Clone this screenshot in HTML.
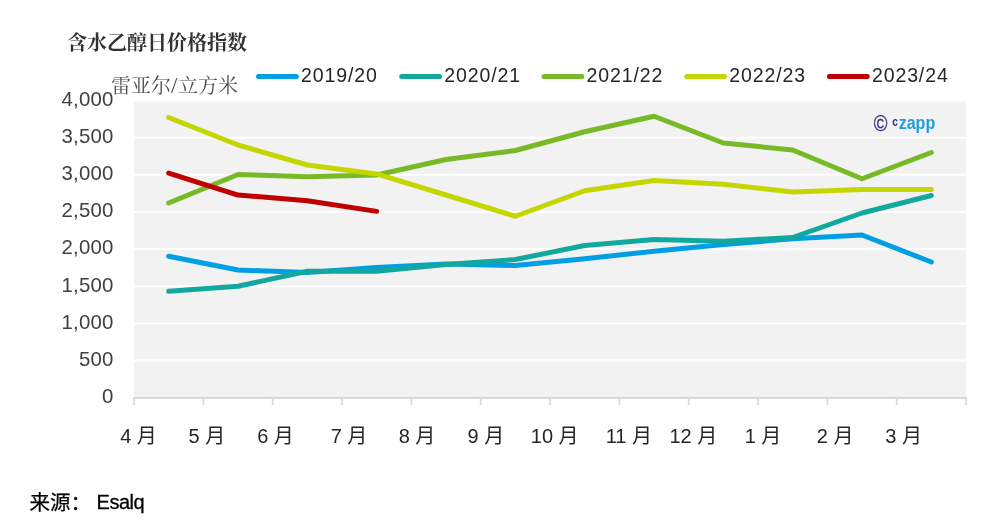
<!DOCTYPE html>
<html lang="zh-CN"><head><meta charset="utf-8"><title>含水乙醇日价格指数</title>
<style>
html,body{margin:0;padding:0;background:#fff;}
body{width:999px;height:522px;overflow:hidden;position:relative;}
svg{position:absolute;left:0;top:0;display:block;}
.sans{font-family:"Liberation Sans","Noto Sans CJK SC",sans-serif;}
.serif{font-family:"Liberation Serif","Noto Serif CJK SC",serif;}
</style></head><body>
<svg width="999" height="522" viewBox="0 0 999 522">
<rect x="0" y="0" width="999" height="522" fill="#ffffff"/>
<rect x="134.0" y="100.5" width="832.0" height="297.2" fill="#f2f2f2"/>
<line x1="134.0" x2="966.0" y1="360.55" y2="360.55" stroke="#ffffff" stroke-width="2"/>
<line x1="134.0" x2="966.0" y1="323.40" y2="323.40" stroke="#ffffff" stroke-width="2"/>
<line x1="134.0" x2="966.0" y1="286.25" y2="286.25" stroke="#ffffff" stroke-width="2"/>
<line x1="134.0" x2="966.0" y1="249.10" y2="249.10" stroke="#ffffff" stroke-width="2"/>
<line x1="134.0" x2="966.0" y1="211.95" y2="211.95" stroke="#ffffff" stroke-width="2"/>
<line x1="134.0" x2="966.0" y1="174.80" y2="174.80" stroke="#ffffff" stroke-width="2"/>
<line x1="134.0" x2="966.0" y1="137.65" y2="137.65" stroke="#ffffff" stroke-width="2"/>
<line x1="134.0" x2="966.0" y1="100.50" y2="100.50" stroke="#ffffff" stroke-width="2"/>
<line x1="133.25" x2="966.75" y1="397.9" y2="397.9" stroke="#d9d9d9" stroke-width="2"/>
<line x1="134.00" x2="134.00" y1="397.7" y2="404.9" stroke="#d9d9d9" stroke-width="1.7"/>
<line x1="203.33" x2="203.33" y1="397.7" y2="404.9" stroke="#d9d9d9" stroke-width="1.7"/>
<line x1="272.67" x2="272.67" y1="397.7" y2="404.9" stroke="#d9d9d9" stroke-width="1.7"/>
<line x1="342.00" x2="342.00" y1="397.7" y2="404.9" stroke="#d9d9d9" stroke-width="1.7"/>
<line x1="411.33" x2="411.33" y1="397.7" y2="404.9" stroke="#d9d9d9" stroke-width="1.7"/>
<line x1="480.67" x2="480.67" y1="397.7" y2="404.9" stroke="#d9d9d9" stroke-width="1.7"/>
<line x1="550.00" x2="550.00" y1="397.7" y2="404.9" stroke="#d9d9d9" stroke-width="1.7"/>
<line x1="619.33" x2="619.33" y1="397.7" y2="404.9" stroke="#d9d9d9" stroke-width="1.7"/>
<line x1="688.67" x2="688.67" y1="397.7" y2="404.9" stroke="#d9d9d9" stroke-width="1.7"/>
<line x1="758.00" x2="758.00" y1="397.7" y2="404.9" stroke="#d9d9d9" stroke-width="1.7"/>
<line x1="827.33" x2="827.33" y1="397.7" y2="404.9" stroke="#d9d9d9" stroke-width="1.7"/>
<line x1="896.67" x2="896.67" y1="397.7" y2="404.9" stroke="#d9d9d9" stroke-width="1.7"/>
<line x1="966.00" x2="966.00" y1="397.7" y2="404.9" stroke="#d9d9d9" stroke-width="1.7"/>
<text class="sans" x="113.7" y="403.00" text-anchor="end" font-size="20.4" letter-spacing="0.25" fill="#404040">0</text>
<text class="sans" x="113.7" y="365.85" text-anchor="end" font-size="20.4" letter-spacing="0.25" fill="#404040">500</text>
<text class="sans" x="113.7" y="328.70" text-anchor="end" font-size="20.4" letter-spacing="0.25" fill="#404040">1,000</text>
<text class="sans" x="113.7" y="291.55" text-anchor="end" font-size="20.4" letter-spacing="0.25" fill="#404040">1,500</text>
<text class="sans" x="113.7" y="254.40" text-anchor="end" font-size="20.4" letter-spacing="0.25" fill="#404040">2,000</text>
<text class="sans" x="113.7" y="217.25" text-anchor="end" font-size="20.4" letter-spacing="0.25" fill="#404040">2,500</text>
<text class="sans" x="113.7" y="180.10" text-anchor="end" font-size="20.4" letter-spacing="0.25" fill="#404040">3,000</text>
<text class="sans" x="113.7" y="142.95" text-anchor="end" font-size="20.4" letter-spacing="0.25" fill="#404040">3,500</text>
<text class="sans" x="113.7" y="105.80" text-anchor="end" font-size="20.4" letter-spacing="0.25" fill="#404040">4,000</text>
<polyline points="168.67,256.23 238.00,269.98 307.33,272.50 376.67,267.53 446.00,263.96 515.33,265.52 584.67,258.76 654.00,251.25 723.33,244.49 792.67,238.77 862.00,234.98 931.33,262.03" fill="none" stroke="#009fe3" stroke-width="5" stroke-linecap="round" stroke-linejoin="round"/>
<polyline points="168.67,291.23 238.00,286.25 307.33,271.24 376.67,271.24 446.00,264.48 515.33,259.50 584.67,245.46 654.00,239.52 723.33,241.22 792.67,237.51 862.00,212.99 931.33,195.53" fill="none" stroke="#13a89e" stroke-width="5" stroke-linecap="round" stroke-linejoin="round"/>
<polyline points="168.67,203.03 238.00,174.50 307.33,176.73 376.67,175.02 446.00,159.49 515.33,150.50 584.67,131.78 654.00,116.25 723.33,143.00 792.67,149.98 862.00,178.74 931.33,152.51" fill="none" stroke="#78b928" stroke-width="5" stroke-linecap="round" stroke-linejoin="round"/>
<polyline points="168.67,117.51 238.00,145.01 307.33,164.99 376.67,173.98 446.00,195.01 515.33,216.26 584.67,190.77 654.00,180.52 723.33,184.24 792.67,191.96 862.00,189.51 931.33,189.51" fill="none" stroke="#c4d600" stroke-width="5" stroke-linecap="round" stroke-linejoin="round"/>
<polyline points="168.67,173.02 238.00,195.01 307.33,200.66 376.67,211.36" fill="none" stroke="#c00000" stroke-width="5" stroke-linecap="round" stroke-linejoin="round"/>
<line x1="258.5" x2="296.3" y1="76.45" y2="76.45" stroke="#009fe3" stroke-width="5" stroke-linecap="round"/>
<text class="sans" x="301.0" y="82" font-size="19.5" letter-spacing="0.9" fill="#262626">2019/20</text>
<line x1="401.7" x2="439.5" y1="76.45" y2="76.45" stroke="#13a89e" stroke-width="5" stroke-linecap="round"/>
<text class="sans" x="444.2" y="82" font-size="19.5" letter-spacing="0.9" fill="#262626">2020/21</text>
<line x1="544" x2="581.8" y1="76.45" y2="76.45" stroke="#78b928" stroke-width="5" stroke-linecap="round"/>
<text class="sans" x="586.5" y="82" font-size="19.5" letter-spacing="0.9" fill="#262626">2021/22</text>
<line x1="686.7" x2="724.5" y1="76.45" y2="76.45" stroke="#c4d600" stroke-width="5" stroke-linecap="round"/>
<text class="sans" x="729.2" y="82" font-size="19.5" letter-spacing="0.9" fill="#262626">2022/23</text>
<line x1="829.4" x2="867.1999999999999" y1="76.45" y2="76.45" stroke="#c00000" stroke-width="5" stroke-linecap="round"/>
<text class="sans" x="871.9" y="82" font-size="19.5" letter-spacing="0.9" fill="#262626">2023/24</text>
<text class="serif" x="67" y="49.5" font-size="20" font-weight="bold" fill="#303030">含水乙醇日价格指数</text>
<text class="serif" x="111" y="93" font-size="20" fill="#4d4d4d">雷亚尔<tspan dx="0" font-size="23">/</tspan><tspan dx="0.5">立方米</tspan></text>
<text class="sans" x="138.5" y="443" text-anchor="middle" font-size="20" fill="#262626">4 月</text>
<text class="sans" x="206.8" y="443" text-anchor="middle" font-size="20" fill="#262626">5 月</text>
<text class="sans" x="275.5" y="443" text-anchor="middle" font-size="20" fill="#262626">6 月</text>
<text class="sans" x="349.0" y="443" text-anchor="middle" font-size="20" fill="#262626">7 月</text>
<text class="sans" x="417.0" y="443" text-anchor="middle" font-size="20" fill="#262626">8 月</text>
<text class="sans" x="485.9" y="443" text-anchor="middle" font-size="20" fill="#262626">9 月</text>
<text class="sans" x="554.7" y="443" text-anchor="middle" font-size="20" fill="#262626">10 月</text>
<text class="sans" x="628.8" y="443" text-anchor="middle" font-size="20" fill="#262626">11 月</text>
<text class="sans" x="693.4" y="443" text-anchor="middle" font-size="20" fill="#262626">12 月</text>
<text class="sans" x="763.0" y="443" text-anchor="middle" font-size="20" fill="#262626">1 月</text>
<text class="sans" x="835.2" y="443" text-anchor="middle" font-size="20" fill="#262626">2 月</text>
<text class="sans" x="903.7" y="443" text-anchor="middle" font-size="20" fill="#262626">3 月</text>
<text class="sans" x="29.5" y="510" font-size="20.5" fill="#000000" stroke="#000000" stroke-width="0.25">来源：</text>
<text class="sans" x="96.6" y="508.5" font-size="20" letter-spacing="-0.5" fill="#000000" stroke="#000000" stroke-width="0.3">Esalq</text>
<text class="sans" transform="translate(880.7,131) scale(0.81,1)" text-anchor="middle" x="0" y="0" font-size="23" fill="#2e2a85" stroke="#2e2a85" stroke-width="0.3">©</text>
<text class="sans" x="892.3" y="125.7" font-size="12" font-weight="bold" fill="#2e2a85" textLength="5.6" lengthAdjust="spacingAndGlyphs">c</text>
<text class="sans" x="898.7" y="129" font-size="19" font-weight="bold" fill="#1d9bdc" textLength="36.5" lengthAdjust="spacingAndGlyphs">zapp</text>
</svg>
</body></html>
